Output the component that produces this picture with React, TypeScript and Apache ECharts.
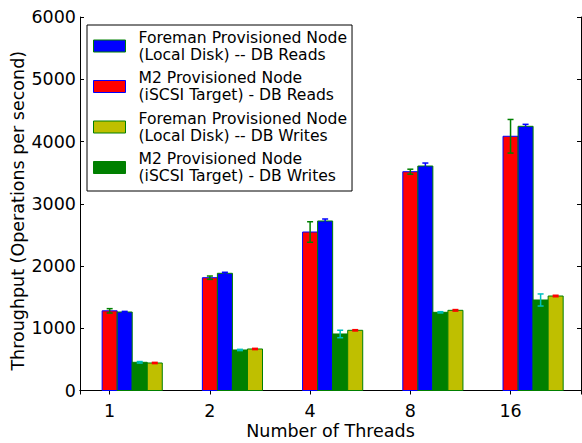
import React, { useEffect, useRef } from 'react';
import * as echarts from 'echarts';

const threads = ['1', '2', '4', '8', '16'];

const m2Reads = [1280, 1812, 2546, 3515, 4084];
const m2ReadsErr = [35, 27, 165, 40, 270];
const foremanReads = [1261, 1883, 2723, 3606, 4244];
const foremanReadsErr = [10, 16, 32, 48, 32];
const m2Writes = [453, 651, 908, 1256, 1454];
const m2WritesErr = [12, 10, 60, 10, 97];
const foremanWrites = [442, 667, 967, 1288, 1518];
const foremanWritesErr = [10, 10, 10, 12, 12];

const yTicks = [0, 1000, 2000, 3000, 4000, 5000, 6000];

const NAME_FR = 'Foreman Provisioned Node\n(Local Disk) -- DB Reads';
const NAME_MR = 'M2 Provisioned Node\n(iSCSI Target) - DB Reads';
const NAME_FW = 'Foreman Provisioned Node\n(Local Disk) -- DB Writes';
const NAME_MW = 'M2 Provisioned Node\n(iSCSI Target) - DB Writes';

const seriesDefs = [
  { name: NAME_MR, values: m2Reads, errors: m2ReadsErr, color: '#ff0000', edge: '#0000ff', errColor: '#008000', slot: 0 },
  { name: NAME_FR, values: foremanReads, errors: foremanReadsErr, color: '#0000ff', edge: '#008000', errColor: '#0000ff', slot: 1 },
  { name: NAME_MW, values: m2Writes, errors: m2WritesErr, color: '#008000', edge: '#008000', errColor: '#00bfbf', slot: 2 },
  { name: NAME_FW, values: foremanWrites, errors: foremanWritesErr, color: '#bfbf00', edge: '#008000', errColor: '#ff0000', slot: 3 },
];

const legendOrder = [NAME_FR, NAME_MR, NAME_FW, NAME_MW];

const SLOT = 0.15;
const BAR_W = 0.15;
const X_MIN = 0.704;
const X_MAX = 5.703;
const FONT = 'DejaVu Sans';

export default function App() {
  const ref = useRef<HTMLDivElement>(null);

  useEffect(() => {
    if (!ref.current) return;
    const chart = echarts.init(ref.current, undefined, { renderer: 'svg' });

    const series: any[] = [];
    seriesDefs.forEach((d) => {
      series.push({
        type: 'custom',
        name: d.name,
        xAxisIndex: 0,
        yAxisIndex: 0,
        z: 2,
        itemStyle: { color: d.color, borderColor: d.edge, borderWidth: 1 },
        data: d.values.map((v, i) => [i + 1 + d.slot * SLOT, v]),
        renderItem: (params: any, api: any) => {
          const x = api.value(0);
          const y = api.value(1);
          const tl = api.coord([x - BAR_W / 2, y]);
          const br = api.coord([x + BAR_W / 2, 0]);
          return {
            type: 'rect',
            shape: { x: tl[0], y: tl[1], width: br[0] - tl[0], height: br[1] - tl[1] },
            style: { fill: d.color, stroke: d.edge, lineWidth: 1 },
          };
        },
      });
    });
    seriesDefs.forEach((d) => {
      series.push({
        type: 'custom',
        name: d.name + ' err',
        xAxisIndex: 0,
        yAxisIndex: 0,
        z: 5,
        data: d.values.map((v, i) => [i + 1 + d.slot * SLOT, v, d.errors[i]]),
        renderItem: (params: any, api: any) => {
          const x = api.value(0);
          const y = api.value(1);
          const e = api.value(2);
          const top = api.coord([x, y + e]);
          const bot = api.coord([x, y - e]);
          const style = { stroke: d.errColor, lineWidth: 1.5 };
          const cap = 3;
          return {
            type: 'group',
            children: [
              { type: 'line', shape: { x1: top[0], y1: top[1], x2: bot[0], y2: bot[1] }, style },
              { type: 'line', shape: { x1: top[0] - cap, y1: top[1], x2: top[0] + cap, y2: top[1] }, style },
              { type: 'line', shape: { x1: bot[0] - cap, y1: bot[1], x2: bot[0] + cap, y2: bot[1] }, style },
            ],
          };
        },
      });
    });

    const byName: Record<string, any> = {};
    seriesDefs.forEach((d) => (byName[d.name] = d));

    const axisLine = { show: true, lineStyle: { color: '#000', width: 1 } };
    const tick = { show: true, inside: true, length: 4, lineStyle: { color: '#000' } };

    chart.setOption({
      animation: false,
      backgroundColor: '#fff',
      grid: { left: 80, top: 17, right: 1, bottom: 52.5, containLabel: false, outerBoundsMode: 'none' },
      legend: {
        data: legendOrder.map((n) => ({
          name: n,
          icon: 'rect',
          itemStyle: { color: byName[n].color, borderColor: byName[n].edge, borderWidth: 1 },
        })),
        orient: 'vertical',
        left: 87,
        top: 25,
        itemWidth: 32,
        itemHeight: 12,
        itemGap: 6.5,
        padding: [4, 5, 6.5, 6],
        backgroundColor: '#fff',
        borderColor: '#000',
        borderWidth: 1,
        selectedMode: false,
        textStyle: { fontFamily: FONT, fontSize: 15.6, lineHeight: 17, color: '#000', padding: [0, 0, 0, 8] },
      },
      xAxis: [
        {
          type: 'value',
          min: X_MIN,
          max: X_MAX,
          minInterval: 1,
          maxInterval: 1,
          position: 'bottom',
          axisLine,
          axisTick: tick,
          splitLine: { show: false },
          axisLabel: {
            margin: 11.5,
            fontFamily: FONT,
            fontSize: 17.5,
            color: '#000',
            formatter: (v: number) => (Number.isInteger(v) && v >= 1 && v <= threads.length ? threads[v - 1] : ''),
          },
          name: 'Number of Threads',
          nameLocation: 'middle',
          nameGap: 31,
          nameMoveOverlap: false,
          nameTextStyle: { fontFamily: FONT, fontSize: 17.5, color: '#000' },
        },
        {
          type: 'value',
          min: X_MIN,
          max: X_MAX,
          minInterval: 1,
          maxInterval: 1,
          position: 'top',
          axisLine,
          axisTick: tick,
          splitLine: { show: false },
          axisLabel: { show: false },
        },
      ],
      yAxis: [
        {
          type: 'value',
          min: yTicks[0],
          max: yTicks[yTicks.length - 1],
          interval: yTicks[1] - yTicks[0],
          position: 'left',
          axisLine,
          axisTick: tick,
          splitLine: { show: false },
          axisLabel: { margin: 4, fontFamily: FONT, fontSize: 17.5, color: '#000', formatter: (v: number) => String(v) },
          name: 'Throughput (Operations per second)',
          nameLocation: 'middle',
          nameGap: 53,
          nameMoveOverlap: false,
          nameTextStyle: { fontFamily: FONT, fontSize: 17.5, color: '#000', padding: [0, 14, 0, 0] },
        },
        {
          type: 'value',
          min: yTicks[0],
          max: yTicks[yTicks.length - 1],
          interval: yTicks[1] - yTicks[0],
          position: 'right',
          axisLine,
          axisTick: tick,
          splitLine: { show: false },
          axisLabel: { show: false },
        },
      ],
      series,
    });

    return () => chart.dispose();
  }, []);

  return <div ref={ref} style={{ position: 'absolute', left: 0, top: 0, width: 582, height: 443 }} />;
}
